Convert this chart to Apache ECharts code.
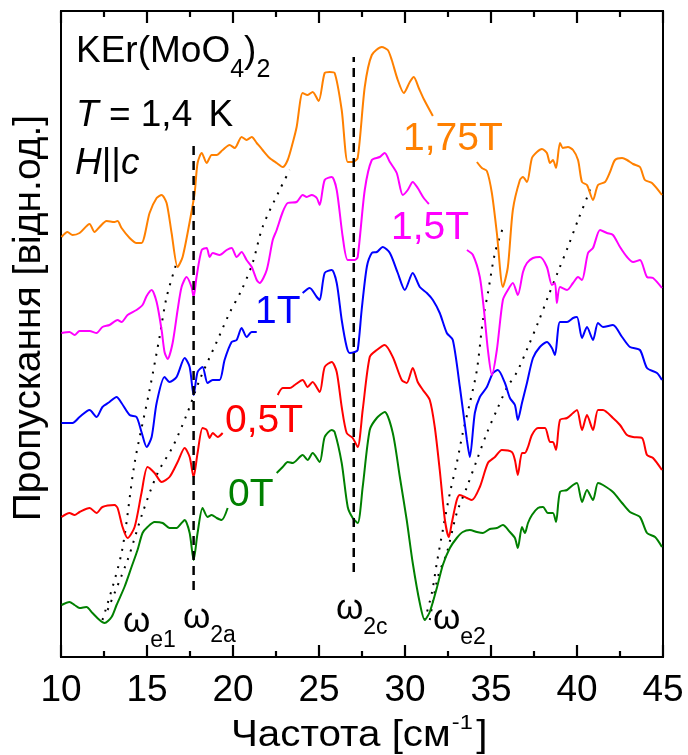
<!DOCTYPE html>
<html>
<head>
<meta charset="utf-8">
<title>KEr(MoO4)2 transmission spectra</title>
<script src="https://cdn.jsdelivr.net/npm/echarts@6/dist/echarts.min.js"></script>
<style>
  html, body { margin: 0; padding: 0; background: #ffffff; }
  #chart { width: 688px; height: 755px; }
</style>
</head>
<body>
<div id="chart"></div>
<script>
// Frequency axis (cm^-1) tick labels
const freqTicks = [10, 15, 20, 25, 30, 35, 40, 45];

// Transmission spectra, [frequency, transmission (arb. units, curves offset)]
// Each trace is split in two where its field label sits.
const trace0T_lo = [[10.03,52],[10.49,55],[10.79,52],[11.08,49],[11.48,50],[11.83,44],[12.24,37],[12.53,34],[12.94,40],[13.23,52],[13.69,70],[14.10,90],[14.45,107],[14.74,124],[15.03,130],[15.44,135],[15.91,134],[16.31,129],[16.72,129],[17.01,134],[17.19,137],[17.48,124],[17.71,97],[17.94,124],[18.23,149],[18.52,140],[18.76,142],[19.05,139],[19.34,137],[19.69,149]];
const trace0T_hi = [[22.54,184],[22.89,190],[23.18,195],[23.47,194],[24.05,202],[24.34,197],[24.63,204],[25.04,195],[25.33,220],[25.74,227],[25.91,225],[26.32,194],[26.67,150],[26.96,139],[27.25,134],[27.54,170],[27.95,227],[28.36,239],[28.82,245],[29.29,224],[29.70,180],[30.10,137],[30.45,94],[30.86,54],[31.15,37],[31.44,45],[31.85,69],[32.20,92],[32.61,109],[33.01,119],[33.36,125],[33.77,127],[34.18,125],[34.53,124],[34.93,128],[35.34,129],[35.69,132],[36.10,125],[36.39,119],[36.56,109],[36.80,130],[36.97,124],[37.15,134],[37.38,142],[37.73,149],[38.02,150],[38.31,144],[38.60,144],[38.78,135],[39.01,165],[39.42,167],[39.77,172],[40.00,174],[40.29,155],[40.58,167],[40.93,157],[41.22,174],[41.51,172],[42.09,165],[42.62,154],[43.08,145],[43.66,140],[44.07,124],[44.54,120],[44.94,110]];

const trace05T_lo = [[10.03,140],[10.49,144],[10.79,142],[11.08,145],[11.66,149],[12.07,144],[12.41,150],[13.11,152],[13.29,149],[13.58,130],[13.87,119],[14.28,130],[14.68,164],[15.03,190],[15.44,184],[15.85,175],[16.31,180],[16.78,195],[17.19,209],[17.48,200],[17.71,180],[17.94,204],[18.23,229],[18.47,227],[18.64,219],[18.82,224],[19.11,220],[19.40,224]];
const trace05T_hi = [[22.60,262],[22.89,269],[23.30,269],[23.59,272],[24.05,277],[24.34,270],[24.63,275],[25.04,265],[25.33,290],[25.74,295],[26.03,285],[26.32,250],[26.61,224],[26.96,219],[27.25,210],[27.54,247],[27.95,300],[28.36,307],[28.82,312],[29.29,300],[29.81,277],[30.10,274],[30.45,289],[30.74,275],[31.04,267],[31.44,257],[31.73,230],[32.02,187],[32.32,137],[32.55,120],[32.72,134],[33.01,157],[33.19,162],[33.60,159],[33.89,157],[34.35,170],[34.82,194],[35.23,200],[35.63,207],[36.21,205],[36.39,197],[36.56,182],[36.80,204],[36.97,204],[37.15,210],[37.38,222],[37.73,229],[38.14,229],[38.43,215],[38.60,215],[38.78,207],[39.01,237],[39.42,239],[39.77,244],[40.00,247],[40.29,227],[40.58,242],[40.93,227],[41.22,247],[41.51,247],[42.09,239],[42.50,232],[42.91,222],[43.26,220],[43.78,219],[44.07,202],[44.42,199],[44.94,187]];

const trace1T_lo = [[10.03,234],[10.67,234],[11.08,240],[11.66,247],[12.07,240],[12.41,250],[12.82,255],[13.23,260],[13.52,254],[13.99,242],[14.39,240],[14.68,225],[14.98,210],[15.27,220],[15.56,254],[16.02,280],[16.31,275],[16.72,280],[17.19,299],[17.48,290],[17.71,262],[17.94,285],[18.23,290],[18.52,274],[18.82,277],[19.22,277],[19.51,297],[19.92,315],[20.21,317],[20.50,329],[20.79,320],[21.09,325],[21.38,325]];
const trace1T_hi = [[24.05,364],[24.46,369],[24.87,360],[25.04,357],[25.33,384],[25.74,387],[26.03,374],[26.32,337],[26.61,310],[26.79,304],[27.08,305],[27.25,307],[27.48,347],[27.78,390],[28.07,404],[28.36,405],[28.71,410],[29.12,404],[29.58,384],[29.99,367],[30.45,384],[30.86,370],[31.27,364],[31.62,357],[32.02,344],[32.43,324],[32.78,317],[33.19,270],[33.60,217],[33.77,200],[34.06,244],[34.35,260],[34.76,270],[35.11,284],[35.40,287],[35.81,274],[36.10,259],[36.39,252],[36.56,237],[36.80,254],[37.09,274],[37.44,299],[37.84,310],[38.25,315],[38.54,309],[38.72,302],[39.01,335],[39.42,335],[39.77,339],[40.00,340],[40.29,319],[40.58,330],[40.93,317],[41.22,334],[41.51,330],[42.09,332],[42.62,320],[43.08,310],[43.66,307],[44.07,289],[44.65,284],[44.94,277]];

const trace15T_lo = [[10.03,324],[10.49,325],[10.79,322],[11.08,326],[11.66,326],[12.07,324],[12.41,330],[12.82,332],[13.29,337],[13.52,335],[13.87,342],[14.39,347],[14.74,352],[14.98,361],[15.27,367],[15.56,355],[15.85,327],[16.02,305],[16.20,298],[16.49,314],[16.78,347],[17.01,370],[17.30,380],[17.59,370],[17.71,360],[17.88,380],[18.18,407],[18.47,409],[18.64,400],[18.82,404],[19.22,402],[19.63,407],[19.92,409],[20.21,400],[20.50,405],[20.79,397],[21.09,390],[21.38,377],[21.55,374],[21.96,387],[22.31,417],[22.54,427],[22.89,445],[23.18,454],[23.70,455],[24.05,462],[24.29,460],[24.58,462],[24.87,459],[25.04,452],[25.33,477],[25.74,480],[26.03,467],[26.38,420],[26.67,397],[27.08,397],[27.25,400],[27.66,467],[28.07,497],[28.53,500],[28.82,504],[29.12,495],[29.52,484],[29.87,462],[30.16,467],[30.45,475],[30.74,469],[31.09,459],[31.39,453]];
const trace15T_hi = [[33.60,407],[33.95,402],[34.35,380],[34.59,347],[34.82,307],[35.05,282],[35.34,307],[35.69,357],[35.98,367],[36.27,374],[36.56,362],[36.86,385],[37.09,394],[37.44,399],[37.84,400],[38.25,390],[38.54,372],[38.72,374],[38.83,354],[39.01,370],[39.42,367],[39.77,374],[40.06,380],[40.29,377],[40.64,404],[40.93,409],[41.34,427],[41.74,424],[42.09,422],[42.50,410],[42.91,400],[43.26,395],[43.66,397],[44.07,380],[44.42,379],[44.94,369]];

const trace175T_lo = [[10.03,420],[10.38,425],[10.67,422],[11.08,424],[11.66,433],[11.95,425],[12.24,430],[12.65,436],[13.11,435],[13.29,436],[13.52,429],[13.99,419],[14.39,414],[14.68,414],[15.15,444],[15.56,459],[15.85,462],[16.14,454],[16.43,424],[16.78,390],[17.07,400],[17.48,435],[17.77,464],[17.94,494],[18.18,504],[18.47,494],[18.76,502],[19.05,502],[19.40,507],[19.80,512],[20.10,509],[20.50,520],[20.79,517],[21.09,520],[21.38,514],[21.72,507],[22.13,499],[22.54,494],[22.89,490],[23.18,497],[23.47,514],[23.70,530],[24.05,564],[24.34,562],[24.63,565],[24.98,556],[25.33,584],[25.62,585],[25.91,584],[26.32,547],[26.67,495],[26.96,495],[27.25,499],[27.66,570],[28.07,602],[28.65,610],[29.00,607],[29.23,597],[29.58,577],[29.93,564],[30.28,575],[30.51,580],[30.80,569],[31.09,558],[31.62,541]];
const trace175T_hi = [[34.18,495],[34.47,489],[34.76,486],[35.05,464],[35.34,424],[35.69,370],[35.98,390],[36.27,447],[36.68,477],[36.86,480],[37.09,475],[37.38,499],[37.67,505],[37.96,508],[38.25,504],[38.43,494],[38.60,497],[38.78,489],[39.01,514],[39.18,509],[39.47,510],[39.77,507],[40.06,497],[40.29,475],[40.58,472],[40.93,457],[41.22,472],[41.63,475],[41.92,485],[42.21,497],[42.62,499],[42.91,497],[43.26,493],[43.66,490],[43.95,477],[44.36,474],[44.94,462]];

// Field dependence of the two split electronic modes (guide lines)
const we1Low  = [[12.41,37],[13.52,104],[14.28,194],[15.15,267],[15.73,320],[16.14,360],[16.72,394]];
const we1High = [[12.71,47],[13.87,97],[14.74,144],[15.62,184],[16.49,210],[17.30,242],[18.06,277],[19.05,315],[19.80,344],[20.50,367],[21.14,394],[21.72,430],[22.71,467],[23.30,487]];
const we2Low  = [[31.15,37],[31.56,64],[31.85,94],[32.20,127],[32.61,164],[33.01,194],[33.36,224],[33.77,254],[34.18,287],[34.53,337],[34.82,364],[35.23,404],[35.69,429]];
const we2High = [[31.44,37],[31.91,80],[32.43,104],[33.01,144],[33.60,170],[34.18,197],[34.76,224],[35.34,247],[35.92,269],[36.51,285],[37.15,310],[37.73,334],[38.31,360],[38.89,385],[39.47,410],[40.06,437],[40.64,462],[40.87,474]];

// Field-independent modes
const w2aLine = [[17.71,67],[17.71,514]];
const w2cLine = [[27.02,85],[27.02,600]];

const GAP = ['-', '-'];
const FONT = '"Liberation Sans", Arial, Helvetica, sans-serif';

const traces = [
  { name: '0T',    color: '#008000', lo: trace0T_lo,    hi: trace0T_hi },
  { name: '0,5T',  color: '#ff0000', lo: trace05T_lo,   hi: trace05T_hi },
  { name: '1T',    color: '#0000ff', lo: trace1T_lo,    hi: trace1T_hi },
  { name: '1,5T',  color: '#ff00ff', lo: trace15T_lo,   hi: trace15T_hi },
  { name: '1,75T', color: '#ff8000', lo: trace175T_lo,  hi: trace175T_hi }
];

const measureCtx = document.createElement('canvas').getContext('2d');
function fontStr(size, italic) { return (italic ? 'italic ' : '') + size + 'px ' + FONT; }
function textWidth(s, size, italic) { measureCtx.font = fontStr(size, italic); return measureCtx.measureText(s).width; }

function textEl(t, x, y, size, opts) {
  opts = opts || {};
  return {
    type: 'text', x: x, y: y, silent: true, rotation: opts.rotation || 0,
    scaleX: opts.scaleX || 1, scaleY: opts.scaleY || 1,
    style: {
      text: t, font: fontStr(size, opts.italic), fill: opts.color || '#000',
      align: opts.align || 'left', verticalAlign: 'middle',
      textAlign: opts.align || 'left', textVerticalAlign: 'middle'
    }
  };
}

// Lay out a run of text pieces left to right (for sub/superscripts)
function textRun(parts, x0, stretch) {
  const s = stretch || 1;
  const out = [];
  let x = x0;
  parts.forEach(p => {
    x += (p.dx || 0) * s;
    out.push(textEl(p.t, x, p.y, p.size, { italic: p.italic, scaleX: s }));
    x += textWidth(p.t, p.size, p.italic) * s;
  });
  return out;
}

const graphics = [].concat(
  textRun([{ t: 'KEr(MoO', size: 37, y: 51.5 }, { t: '4', size: 25, y: 70 }, { t: ')', size: 37, y: 51.5 }, { t: '2', size: 25, y: 70 }], 76),
  textRun([{ t: 'T', size: 37, y: 115.5, italic: true }, { t: ' = 1,4 ', size: 37, y: 115.5 }, { t: 'K', size: 37, y: 115.5, dx: 6 }], 76),
  textRun([{ t: 'H', size: 37, y: 163.5, italic: true }, { t: '||', size: 37, y: 163.5 }, { t: 'c', size: 37, y: 163.5, italic: true }], 75),
  [
    textEl('1,75T', 403, 139.5, 39, { color: '#ff8000' }),
    textEl('1,5T', 391, 228, 39, { color: '#ff00ff' }),
    textEl('1T', 255, 312, 39, { color: '#0000ff' }),
    textEl('0,5T', 225, 421, 39, { color: '#ff0000' }),
    textEl('0T', 228, 495.5, 39, { color: '#008000' })
  ],
  textRun([{ t: 'ω', size: 35, y: 622 }, { t: 'e1', size: 23, y: 640.5 }], 123),
  textRun([{ t: 'ω', size: 35, y: 618 }, { t: '2a', size: 23, y: 636 }], 183),
  textRun([{ t: 'ω', size: 35, y: 609 }, { t: '2c', size: 23, y: 627.5 }], 336),
  textRun([{ t: 'ω', size: 35, y: 619 }, { t: 'e2', size: 23, y: 637.5 }], 433),
  textRun([{ t: 'Частота [см', size: 36, y: 736 }, { t: '-1', size: 21, y: 723.5, dx: 1 }, { t: ']', size: 36, y: 736, dx: 3 }], 231, 1.12),
  [ textEl('Пропускання [відн.од.]', 29.5, 318, 39, { align: 'center', rotation: Math.PI / 2 }) ]
);

const series = [];
traces.forEach(tr => {
  series.push({
    name: tr.name, type: 'line', xAxisIndex: 0, yAxisIndex: 0,
    data: tr.lo.concat([GAP], tr.hi),
    showSymbol: false, smooth: 0.25, connectNulls: false, silent: true,
    lineStyle: { color: tr.color, width: 2 }, z: 3
  });
});
[we1Low, we1High, we2Low, we2High].forEach((d, i) => {
  series.push({
    name: 'guide' + i, type: 'line', data: d, showSymbol: false, smooth: 0.3, silent: true,
    lineStyle: { color: '#000', width: 2, type: [2, 7], cap: 'butt' }, z: 2
  });
});
[w2aLine, w2cLine].forEach((d, i) => {
  series.push({
    name: 'mode' + i, type: 'line', data: d, showSymbol: false, silent: true,
    lineStyle: { color: '#000', width: 2.5, type: [9, 6] }, z: 4
  });
});

function freqAxis(position, withLabels) {
  return {
    type: 'value', position: position, z: 10,
    min: freqTicks[0], max: freqTicks[freqTicks.length - 1], interval: 5,
    axisLine: { show: true, onZero: false, lineStyle: { color: '#000', width: 2 } },
    axisTick: { show: true, inside: true, length: 12, lineStyle: { color: '#000', width: 2.2 } },
    minorTick: { show: true, splitNumber: 2, length: 6, lineStyle: { color: '#000', width: 2.2 } },
    splitLine: { show: false },
    axisLabel: withLabels
      ? { show: true, margin: 15, fontSize: 37, fontFamily: FONT, color: '#000' }
      : { show: false }
  };
}

const chart = echarts.init(document.getElementById('chart'), null, { renderer: 'canvas' });
chart.setOption({
  animation: false,
  backgroundColor: '#fff',
  grid: { left: 61, right: 25, top: 11, bottom: 98, show: true, borderColor: '#000', borderWidth: 2 },
  xAxis: [freqAxis('bottom', true), freqAxis('top', false)],
  yAxis: {
    type: 'value', min: 0, max: 646,
    axisLine: { show: true, lineStyle: { color: '#000', width: 2 } },
    axisTick: { show: false }, axisLabel: { show: false }, splitLine: { show: false }
  },
  series: series,
  graphic: { elements: graphics }
});
</script>
</body>
</html>
